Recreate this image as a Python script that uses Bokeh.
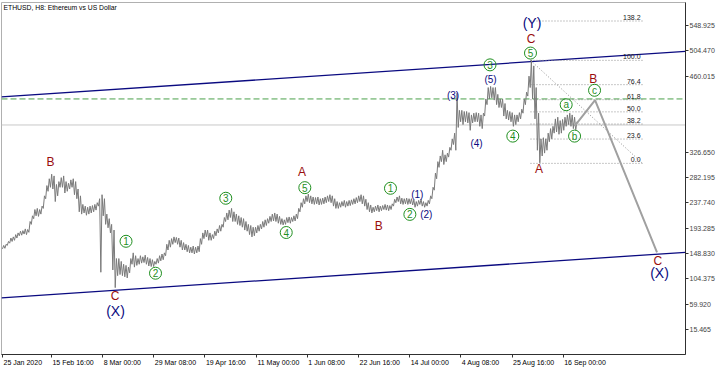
from bokeh.plotting import figure
from bokeh.models import Range1d, FixedTicker, Label, NumeralTickFormatter, LinearAxis
from bokeh.embed import file_html
from bokeh.resources import INLINE
from bokeh.core.properties import value

TITLE = "ETHUSD, H8:  Ethereum vs US Dollar"

# daily price envelope, x in hours after 25 Jan 2020 00:00
START_HOUR = 30
STEP_HOURS = 24
low = [
    157, 158, 163, 167, 170, 172, 176, 180, 181, 183,
    182, 186, 200, 210, 215, 214, 218, 228, 245, 258,
    265, 262, 240, 250, 265, 265, 255, 258, 262, 265,
    252, 245, 222, 218, 220, 216, 218, 220, 222, 225,
    232, 116, 215, 200, 194, 185, 120, 89, 110, 112,
    110, 108, 106, 115, 130, 125, 128, 130, 132, 133,
    130, 127, 126, 126, 130, 132, 136, 138, 145, 155,
    160, 165, 168, 165, 160, 155, 155, 152, 150, 150,
    148, 150, 152, 165, 175, 178, 172, 172, 175, 180,
    185, 188, 195, 205, 208, 212, 205, 205, 200, 198,
    195, 190, 188, 182, 178, 180, 185, 188, 192, 195,
    198, 202, 205, 206, 205, 202, 200, 199, 200, 203,
    202, 205, 206, 210, 222, 230, 236, 240, 238, 236,
    235, 236, 234, 235, 236, 238, 240, 238, 232, 228,
    228, 230, 232, 230, 232, 233, 235, 236, 238, 240,
    236, 232, 226, 222, 220, 222, 224, 222, 224, 226,
    225, 224, 226, 232, 238, 240, 236, 235, 236, 235,
    236, 234, 230, 232, 235, 232, 230, 232, 236, 245,
    260, 280, 300, 310, 305, 310, 318, 330, 340, 330,
    370, 380, 375, 380, 378, 365, 378, 380, 380, 372,
    368, 390, 410, 420, 422, 418, 410, 405, 405, 390,
    385, 383, 380, 372, 375, 380, 385, 395, 410, 425,
    440, 420, 385, 330, 308, 320, 325, 330, 345, 350,
    360, 362, 358, 360, 365, 372, 375, 372, 368, 366,
]
high = [
    163, 165, 170, 176, 178, 182, 185, 188, 189, 192,
    191, 205, 215, 226, 228, 226, 232, 250, 268, 280,
    288, 285, 270, 275, 282, 285, 275, 272, 278, 280,
    275, 262, 250, 235, 232, 230, 232, 233, 235, 238,
    245, 252, 245, 218, 210, 200, 190, 140, 140, 135,
    130, 128, 125, 140, 150, 145, 140, 145, 143, 146,
    142, 140, 138, 135, 140, 145, 148, 150, 165, 172,
    175, 178, 177, 176, 172, 168, 165, 163, 160, 162,
    160, 162, 175, 185, 190, 190, 185, 182, 188, 192,
    198, 200, 212, 220, 225, 228, 222, 218, 215, 212,
    210, 205, 200, 198, 195, 195, 198, 200, 205, 208,
    210, 214, 218, 220, 218, 214, 210, 208, 212, 213,
    212, 215, 218, 228, 238, 245, 250, 253, 250, 248,
    247, 248, 245, 246, 248, 250, 252, 250, 245, 240,
    238, 240, 242, 240, 242, 243, 245, 247, 250, 252,
    250, 244, 238, 234, 230, 232, 234, 232, 233, 235,
    234, 233, 236, 244, 248, 250, 246, 245, 246, 245,
    245, 243, 240, 242, 244, 240, 238, 242, 250, 265,
    290, 310, 320, 330, 322, 325, 335, 350, 360, 430,
    400, 400, 398, 398, 396, 392, 395, 396, 395, 392,
    395, 420, 440, 442, 440, 440, 428, 420, 420, 412,
    400, 398, 396, 392, 392, 396, 402, 420, 432, 460,
    488, 478, 440, 395, 350, 352, 350, 360, 368, 372,
    385, 388, 382, 384, 388, 392, 395, 392, 388, 380,
]

x_tick_hours = [30, 520, 1032, 1544, 2056, 2568, 3080, 3592, 4104, 4616, 5128, 5640]
x_tick_labels = ["25 Jan 2020", "15 Feb 16:00", "8 Mar 00:00", "29 Mar 08:00",
                 "19 Apr 16:00", "11 May 00:00", "1 Jun 08:00", "22 Jun 16:00",
                 "14 Jul 00:00", "4 Aug 08:00", "25 Aug 16:00", "16 Sep 00:00"]
y_tick_values = [15.465, 59.920, 104.375, 148.830, 193.285, 237.740, 282.195,
                 326.650, 460.015, 504.470, 548.925]

target_price = 420.0
bid_price = 374.349

upper_channel_hours = [20, 6864]
upper_channel_price = [423.5, 503.5]
lower_channel_hours = [20, 6864]
lower_channel_price = [71.0, 151.0]

forecast_hours = [5754, 5959, 6579]
forecast_price = [372.3, 417.8, 151.0]

fib_levels = [0.0, 23.6, 38.2, 50.0, 61.8, 76.4, 100.0, 138.2]
fib_hours = [5313, 6434]
fib_high = 487.7
fib_low = 307.0

letter_text = ["B", "C", "A", "B", "C", "A", "B", "C"]
letter_hours = [510, 1156, 3027, 3795, 5318, 5398, 5942, 6587]
letter_price = [309.3, 74.9, 292.7, 197.4, 525.3, 297.1, 455.4, 135.3]

degree_text = ["(X)", "(Y)", "(X)"]
degree_hours = [1161, 5328, 6604]
degree_price = [47.5, 552.4, 114.3]

minor_text = ["(1)", "(2)", "(3)", "(4)", "(5)"]
minor_hours = [4180, 4270, 4538, 4773, 4913]
minor_price = [252.5, 216.6, 426.5, 342.0, 453.9]

circle_text = ["1", "2", "3", "4", "5", "1", "2", "3", "4", "5", "a", "b", "c"]
circle_hours = [1266, 1561, 2264, 2869, 3055, 3912, 4106, 4908, 5136, 5313, 5670, 5754, 5954]
circle_price = [170.3, 114.3, 245.8, 185.7, 264.4, 263.3, 217.5, 479.8, 354.8, 500.5, 409.9, 354.8, 435.2]

RED = "#9a0d0d"
NAVY = "#0a0a80"
GREEN = "#1f8f1f"
FONT = "Liberation Sans"
AXIS_FONT_PX = 7.0
X0, X1 = 20, 6864
Y0, Y1 = -28.3, 589.2
FRAME_W = 684

p = figure(width=720, height=368, x_range=Range1d(X0, X1), y_range=Range1d(Y0, Y1),
           output_backend="svg", toolbar_location=None, y_axis_location="right",
           min_border_left=1, min_border_right=35, min_border_top=2, min_border_bottom=13)
p.grid.visible = False
p.outline_line_color = "#b0b0b0"
p.background_fill_color = "white"
p.border_fill_color = "white"

# tick marks only
xa = p.xaxis[0]
xa.ticker = FixedTicker(ticks=x_tick_hours)
xa.major_label_overrides = {h: "" for h in x_tick_hours}
xa.major_label_text_font_size = "1px"
xa.major_label_standoff = 0
xa.major_tick_out = 3
xa.major_tick_in = 0
xa.minor_tick_out = 0
xa.minor_tick_in = 0
xa.axis_line_color = "#303030"
xa.major_tick_line_color = "#303030"

# time labels start at their tick mark (MetaTrader style): centre each one half its width to the right
ARIAL_W = {" ": 278, ":": 278, "J": 500, "a": 556, "n": 556, "F": 611, "e": 556, "b": 556,
           "M": 833, "r": 333, "A": 667, "p": 556, "y": 500, "u": 556, "l": 222, "g": 556, "S": 667}
hours_per_px = (X1 - X0) / FRAME_W
label_pos = []
for h, t in zip(x_tick_hours, x_tick_labels):
    w = sum(ARIAL_W.get(c, 556) for c in t) / 1000.0 * AXIS_FONT_PX
    label_pos.append(h + (w / 2 + 1) * hours_per_px)
xl = LinearAxis(ticker=FixedTicker(ticks=label_pos),
                major_label_overrides={pos: t for pos, t in zip(label_pos, x_tick_labels)},
                major_label_text_font=FONT, major_label_text_font_size="%gpx" % AXIS_FONT_PX,
                major_label_text_color="#000000", major_label_standoff=1,
                major_tick_out=0, major_tick_in=0, minor_tick_out=0, minor_tick_in=0,
                axis_line_color=None, major_tick_line_color=None)
p.add_layout(xl, "below")

ya = p.yaxis[0]
ya.ticker = FixedTicker(ticks=y_tick_values)
ya.formatter = NumeralTickFormatter(format="0.000")
ya.major_label_text_font = FONT
ya.major_label_text_font_size = "%gpx" % AXIS_FONT_PX
ya.major_label_standoff = 1
ya.major_tick_out = 3
ya.major_tick_in = 0
ya.minor_tick_out = 0
ya.minor_tick_in = 0
ya.axis_line_color = "#303030"
ya.major_tick_line_color = "#303030"

# horizontal reference lines
p.line([X0, X1], [bid_price, bid_price], line_color="#c8c8c8", line_width=1)
p.line([X0, X1], [target_price, target_price], line_color="#4aa04a", line_width=1, line_dash="6 3")

# channel lines
p.line(upper_channel_hours, upper_channel_price, line_color=NAVY, line_width=1.3)
p.line(lower_channel_hours, lower_channel_price, line_color=NAVY, line_width=1.3)

# fibonacci levels
fib_prices = [fib_low + (fib_high - fib_low) * lv / 100.0 for lv in fib_levels]
p.segment(x0=[fib_hours[0]] * len(fib_levels), y0=fib_prices,
          x1=[fib_hours[1]] * len(fib_levels), y1=fib_prices,
          line_color="#909090", line_width=1, line_dash="1 2")
p.line(fib_hours, [fib_high, fib_low], line_color="#909090", line_width=1, line_dash="1 2")
p.text(x=[fib_hours[1]] * len(fib_levels), y=fib_prices, text=["%.1f" % lv for lv in fib_levels],
       text_align="right", text_baseline="bottom", x_offset=-2, y_offset=-1,
       text_font=value(FONT), text_font_size="7px", text_color="#202020")

# price bars (daily low/high drawn as a zigzag)
px_x, px_y = [], []
for i, (lo, hi) in enumerate(zip(low, high)):
    h = START_HOUR + STEP_HOURS * i
    px_x += [h, h + STEP_HOURS / 2]
    px_y += [lo, hi]
p.line(px_x, px_y, line_color="#7a7a7a", line_width=1)

# forecast path
p.line(forecast_hours, forecast_price, line_color="#a0a0a0", line_width=2)

# wave labels
p.text(x=letter_hours, y=letter_price, text=letter_text, text_align="center", text_baseline="middle",
       text_font=value(FONT), text_font_size="12px", text_color=RED)
p.text(x=degree_hours, y=degree_price, text=degree_text, text_align="center", text_baseline="middle",
       text_font=value(FONT), text_font_size="14px", text_color=NAVY)
p.text(x=minor_hours, y=minor_price, text=minor_text, text_align="center", text_baseline="middle",
       text_font=value(FONT), text_font_size="10px", text_color=NAVY)
p.scatter(x=circle_hours, y=circle_price, marker="circle", size=12, fill_color=None,
          line_color=GREEN, line_width=1)
p.text(x=circle_hours, y=circle_price, text=circle_text, text_align="center", text_baseline="middle",
       text_font=value(FONT), text_font_size="10px", text_color=GREEN)

# title
p.add_layout(Label(x=X0, y=Y1, x_offset=2, y_offset=-1, text=TITLE, text_baseline="top",
                   text_align="left", text_font=FONT, text_font_size="6.8px", text_color="#000000"))

# price tags on the axis
p.add_layout(Label(x=X1, y=target_price, x_offset=2, text="420.000", text_baseline="middle",
                   text_align="left", text_font=FONT, text_font_size="7px", text_color="white",
                   background_fill_color="#0b6a0b", padding=1))
p.add_layout(Label(x=X1, y=bid_price, x_offset=2, text="374.349", text_baseline="middle",
                   text_align="left", text_font=FONT, text_font_size="7px", text_color="white",
                   background_fill_color="#c0c0c0", padding=1))

open("out.html", "w").write(file_html(p, INLINE))
